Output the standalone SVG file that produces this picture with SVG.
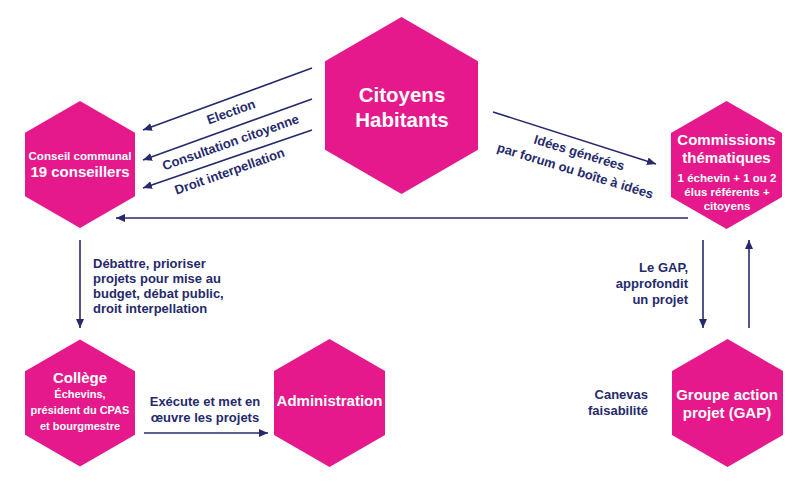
<svg xmlns="http://www.w3.org/2000/svg" width="808" height="485" viewBox="0 0 808 485">
<style>
.hex{fill:#e5198b}
.t{font-family:"Liberation Sans",Arial,sans-serif;font-weight:bold;fill:#fff;text-anchor:middle}
.l{font-family:"Liberation Sans",Arial,sans-serif;font-weight:bold;fill:#262a6b;font-size:13px}
.c{stroke:#262a6b;stroke-width:1.6;fill:none;marker-end:url(#ah)}
</style>
<defs>
<marker id="ah" markerUnits="userSpaceOnUse" markerWidth="10" markerHeight="8" refX="9" refY="4" orient="auto">
<path d="M0,0 L9,4 L0,8 z" fill="#262a6b"/>
</marker>
</defs>
<rect width="808" height="485" fill="#fff"/>
<g id="connectors">
<line class="c" x1="312" y1="68" x2="143" y2="130"/>
<line class="c" x1="312" y1="99" x2="143" y2="160"/>
<line class="c" x1="312" y1="130" x2="143" y2="188"/>
<line class="c" x1="493" y1="112" x2="656" y2="164"/>
<line class="c" x1="688" y1="218" x2="116" y2="218" stroke-width="2"/>
<line class="c" x1="80" y1="240" x2="80" y2="328" stroke-width="2"/>
<line class="c" x1="144" y1="433" x2="268" y2="433" stroke-width="2"/>
<line class="c" x1="703" y1="240" x2="703" y2="328" stroke-width="2"/>
<line class="c" x1="749" y1="328" x2="749" y2="240" stroke-width="2"/>
<text class="l" transform="translate(232.5,116) rotate(-19.5)" text-anchor="middle">Election</text>
<text class="l" transform="translate(232,146.5) rotate(-19.5)" text-anchor="middle">Consultation citoyenne</text>
<text class="l" transform="translate(231,175.5) rotate(-19.5)" text-anchor="middle">Droit interpellation</text>
<text class="l" transform="translate(578,157) rotate(17)" text-anchor="middle">Idées générées</text>
<text class="l" transform="translate(574,175) rotate(17)" text-anchor="middle">par forum ou boîte à idées</text>
<text class="l" x="93" y="268">Débattre, prioriser</text>
<text class="l" x="93" y="283">projets pour mise au</text>
<text class="l" x="93" y="298">budget, débat public,</text>
<text class="l" x="93" y="313">droit interpellation</text>
<text class="l" x="205" y="406" text-anchor="middle">Exécute et met en</text>
<text class="l" x="205" y="422" text-anchor="middle">œuvre les projets</text>
<text class="l" x="688" y="272" text-anchor="end">Le GAP,</text>
<text class="l" x="688" y="288" text-anchor="end">approfondit</text>
<text class="l" x="688" y="304" text-anchor="end">un projet</text>
<text class="l" x="648" y="399" text-anchor="end">Canevas</text>
<text class="l" x="648" y="415" text-anchor="end">faisabilité</text>
</g>
<g id="citoyens">
<polygon class="hex" points="401.5,17 478,61.25 478,149.75 401.5,194 325,149.75 325,61.25"/>
<text class="t" x="402" y="102" font-size="20.5">Citoyens</text>
<text class="t" x="402" y="127" font-size="20.5">Habitants</text>
</g>
<g id="conseil">
<polygon class="hex" points="80,101 135,132.75 135,196.25 80,228 25,196.25 25,132.75"/>
<text class="t" x="80" y="160" font-size="11.6">Conseil communal</text>
<text class="t" x="80" y="177" font-size="15">19 conseillers</text>
</g>
<g id="commissions">
<polygon class="hex" points="726.5,101 782,133 782,197 726.5,229 671,197 671,133"/>
<text class="t" x="726.5" y="145" font-size="15">Commissions</text>
<text class="t" x="726.5" y="163" font-size="15">thématiques</text>
<text class="t" x="727" y="182" font-size="11.5">1 échevin + 1 ou 2</text>
<text class="t" x="727" y="196" font-size="11.5">élus référents +</text>
<text class="t" x="727" y="210" font-size="11.5">citoyens</text>
</g>
<g id="college">
<polygon class="hex" points="80,339.5 135,371.25 135,434.75 80,466.5 25,434.75 25,371.25"/>
<text class="t" x="80" y="383" font-size="15">Collège</text>
<text class="t" x="80" y="398" font-size="11">Échevins,</text>
<text class="t" x="80" y="414" font-size="11">président du CPAS</text>
<text class="t" x="80" y="430" font-size="11">et bourgmestre</text>
</g>
<g id="administration">
<polygon class="hex" points="329.5,339 385,371 385,435 329.5,467 274,435 274,371"/>
<text class="t" x="329.5" y="406" font-size="15">Administration</text>
</g>
<g id="gap">
<polygon class="hex" points="727.5,339 783,371 783,435 727.5,467 672,435 672,371"/>
<text class="t" x="727" y="400" font-size="15">Groupe action</text>
<text class="t" x="727" y="418" font-size="15">projet (GAP)</text>
</g>
</svg>
